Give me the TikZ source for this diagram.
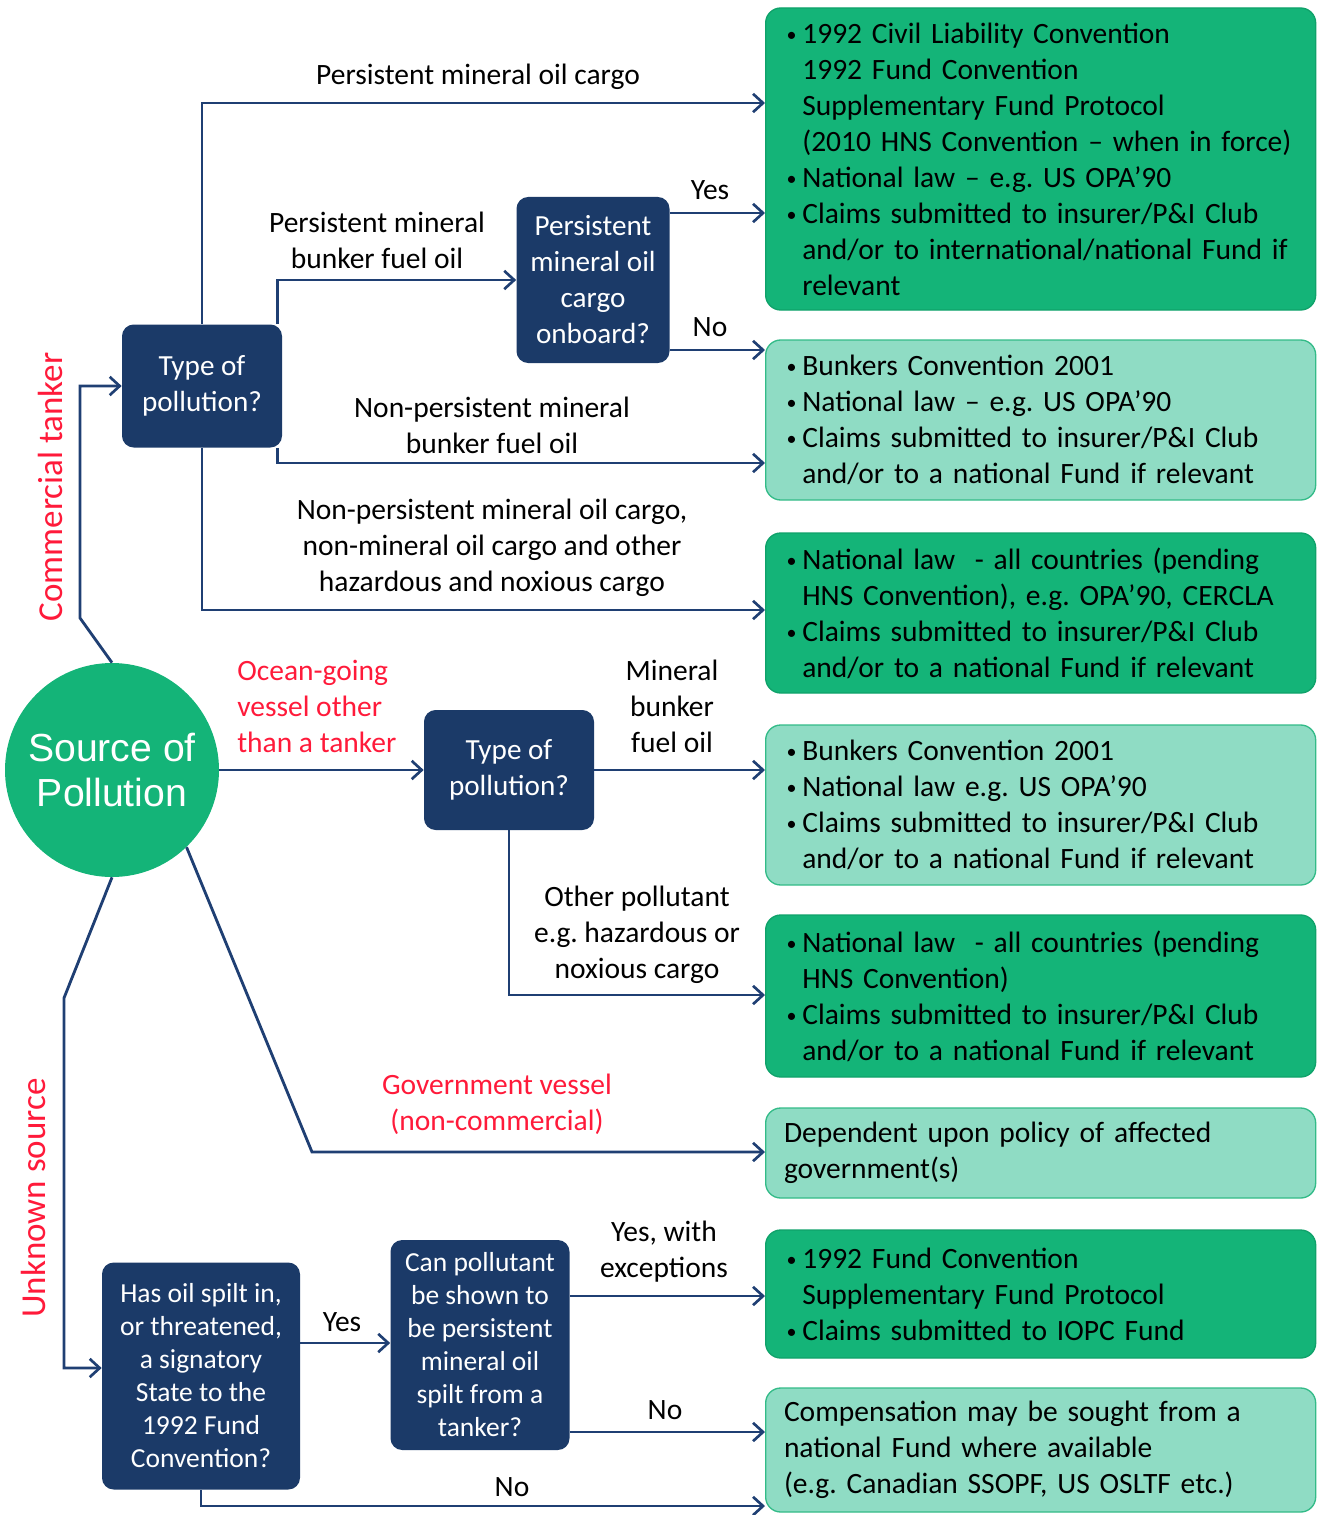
\documentclass[tikz,border=0pt]{standalone}
\usepackage{fontspec}
\setmainfont{Carlito}
\newfontfamily\circfont{Liberation Sans}
\usetikzlibrary{arrows.meta,positioning}
\frenchspacing
\definecolor{navy}{HTML}{1B3A68}
\definecolor{lineblue}{HTML}{1F3F73}
\definecolor{brightgreen}{HTML}{14B478}
\definecolor{darkedge}{HTML}{0FA26A}
\definecolor{lightgreen}{HTML}{8FDCC4}
\definecolor{lightedge}{HTML}{33BB88}
\definecolor{labelred}{HTML}{FF1A3A}
\newcommand\px{0.6pt}
\newcommand\bul{\makebox[11pt][l]{\hspace{1.5pt}\raisebox{1pt}{\fontsize{12}{12}\selectfont\textbullet}}}
\newcommand\ind{\hspace*{11pt}}
\tikzstyle{question}=[
	draw=none,
	fill=navy,
	rectangle,
	rounded corners=7pt,
	text=white,
	align=center,
	inner sep=0pt,
	font=\fontsize{17.5}{21.6}\selectfont]
\tikzstyle{outcome}=[
	rectangle,
	rounded corners=9pt,
	anchor=west,
	align=left,
	text width=308pt,
	inner xsep=11pt,
	line width=0.8pt,
	font=\fontsize{17.7}{21.6}\selectfont]
\tikzstyle{darkout}=[
	outcome,
	draw=darkedge,
	fill=brightgreen]
\tikzstyle{lightout}=[
	outcome,
	draw=lightedge,
	fill=lightgreen]
\tikzstyle{branch}=[
	align=center,
	inner sep=0pt,
	font=\fontsize{17.7}{21.6}\selectfont]
\tikzstyle{redbranch}=[
	branch,
	text=labelred]
\tikzstyle{conn}=[
	draw=lineblue,
	line width=1.7pt,
	->]

\begin{document}
\begin{tikzpicture}[x=\px,y=-\px,>={Straight Barb[length=6pt,width=11pt,line width=1.6pt]}]
	\useasboundingbox (0,0) rectangle (1317,1515);
	% source
	\node[circle,fill=brightgreen,minimum size=214*\px,inner sep=0pt,text=white,align=center,
		font=\circfont\fontsize{23.5}{27}\selectfont] (src) at (112,770) {Source of\\Pollution};
	% questions
	\node[question,minimum width=160*\px,minimum height=123*\px] (type1) at (202,386) {Type of\\pollution?};
	\node[question,minimum width=153*\px,minimum height=166*\px] (pcargo) at (593,280) {Persistent\\mineral oil\\cargo\\onboard?};
	\node[question,minimum width=170*\px,minimum height=120*\px] (type2) at (509,770) {Type of\\pollution?};
	\node[question,minimum width=198*\px,minimum height=227*\px,font=\fontsize{16.5}{19.8}\selectfont] (spilt) at (201,1376)
		{Has oil spilt in,\\or threatened,\\a signatory\\State to the\\1992 Fund\\Convention?};
	\node[question,minimum width=179*\px,minimum height=210*\px,font=\fontsize{16.5}{19.8}\selectfont] (canshow) at (480,1345)
		{Can pollutant\\be shown to\\be persistent\\mineral oil\\spilt from a\\tanker?};
	% outcomes
	\node[darkout,minimum height=302*\px] (clc) at (765,159)
		{\bul 1992 Civil Liability Convention\\\ind 1992 Fund Convention\\\ind Supplementary Fund Protocol\\\ind (2010 HNS Convention -- when in force)\\\bul National law -- e.g. US OPA'90\\\bul Claims submitted to insurer/P\&I Club\\\ind and/or to international/national Fund if\\\ind relevant};
	\node[lightout,minimum height=160*\px] (bunk) at (765,420)
		{\bul Bunkers Convention 2001\\\bul National law -- e.g. US OPA'90\\\bul Claims submitted to insurer/P\&I Club\\\ind and/or to a national Fund if relevant};
	\node[darkout,minimum height=160*\px] (natl) at (765,613)
		{\bul National law \ - all countries (pending\\\ind HNS Convention), e.g. OPA'90, CERCLA\\\bul Claims submitted to insurer/P\&I Club\\\ind and/or to a national Fund if relevant};
	\node[lightout,minimum height=160*\px] (bunk2) at (765,805)
		{\bul Bunkers Convention 2001\\\bul National law e.g. US OPA'90\\\bul Claims submitted to insurer/P\&I Club\\\ind and/or to a national Fund if relevant};
	\node[darkout,minimum height=162*\px] (natl2) at (765,996)
		{\bul National law \ - all countries (pending\\\ind HNS Convention)\\\bul Claims submitted to insurer/P\&I Club\\\ind and/or to a national Fund if relevant};
	\node[lightout,minimum height=90*\px] (govt) at (765,1153)
		{Dependent upon policy of affected\\government(s)};
	\node[darkout,minimum height=128*\px] (fund) at (765,1294)
		{\bul 1992 Fund Convention\\\ind Supplementary Fund Protocol\\\bul Claims submitted to IOPC Fund};
	\node[lightout,minimum height=124*\px] (comp) at (765,1450)
		{Compensation may be sought from a\\national Fund where available\\(e.g. Canadian SSOPF, US OSLTF etc.)};
	% bends
	\coordinate (ctbend) at (80,618);
	\coordinate (gvbend) at (312,1152);
	\coordinate (usbend) at (64,998);
	% connectors
	\draw[conn] (src.north) -- (ctbend) |- (type1.west);
	\draw[conn] (type1.north) |- (clc.west |- 0,103);
	\draw[conn] ([xshift=-5*\px]type1.north east) |- (pcargo.west);
	\draw[conn] ([xshift=-5*\px]type1.south east) |- (bunk.west |- 0,463);
	\draw[conn] (type1.south) |- (natl.west |- 0,610);
	\draw[conn] (pcargo.east |- 0,213) -- (clc.west |- 0,213);
	\draw[conn] (pcargo.east |- 0,350) -- (bunk.west |- 0,350);
	\draw[conn] (src.east) -- (type2.west);
	\draw[conn] (type2.east) -- (bunk2.west |- type2.east);
	\draw[conn] (type2.south) |- (natl2.west |- 0,995);
	\draw[conn] (src.-46) -- (gvbend) -- (govt.west |- gvbend);
	\draw[conn] (src.south) -- (usbend) |- (spilt.west |- 0,1368);
	\draw[conn] (spilt.east |- 0,1343) -- (canshow.west |- 0,1343);
	\draw[conn] (canshow.east |- 0,1296) -- (fund.west |- 0,1296);
	\draw[conn] (canshow.east |- 0,1432) -- (comp.west |- 0,1432);
	\draw[conn] (spilt.south) |- (comp.west |- 0,1506);
	% labels
	\node[redbranch,rotate=90,font=\fontsize{21}{25}\selectfont] (lbltanker) at (50,487) {Commercial tanker};
	\node[redbranch,rotate=90,font=\fontsize{21}{25}\selectfont] (lblunknown) at (33,1198) {Unknown source};
	\node[branch] (lblpmoc) at (478,77) {Persistent mineral oil cargo};
	\node[branch] (lblpmbf) at (377,240) {Persistent mineral\\bunker fuel oil};
	\node[branch] (lblyes1) at (710,190) {Yes};
	\node[branch] (lblno1) at (710,327) {No};
	\node[branch] (lblnpbf) at (492,425) {Non-persistent mineral\\bunker fuel oil};
	\node[branch] (lblnpoc) at (492,548) {Non-persistent mineral oil cargo,\\non-mineral oil cargo and other\\hazardous and noxious cargo};
	\node[redbranch,align=left,anchor=west] (lblocean) at (237,706) {Ocean-going\\vessel other\\than a tanker};
	\node[branch] (lblmbf) at (672,706) {Mineral\\bunker\\fuel oil};
	\node[branch] (lblother) at (637,935) {Other pollutant\\e.g. hazardous or\\noxious cargo};
	\node[redbranch] (lblgovt) at (497,1104) {Government vessel\\(non-commercial)};
	\node[branch] (lblyes2) at (342,1322) {Yes};
	\node[branch] (lblyesex) at (664,1252) {Yes, with\\exceptions};
	\node[branch] (lblno2) at (665,1410) {No};
	\node[branch] (lblno3) at (512,1487) {No};
\end{tikzpicture}
\end{document}
